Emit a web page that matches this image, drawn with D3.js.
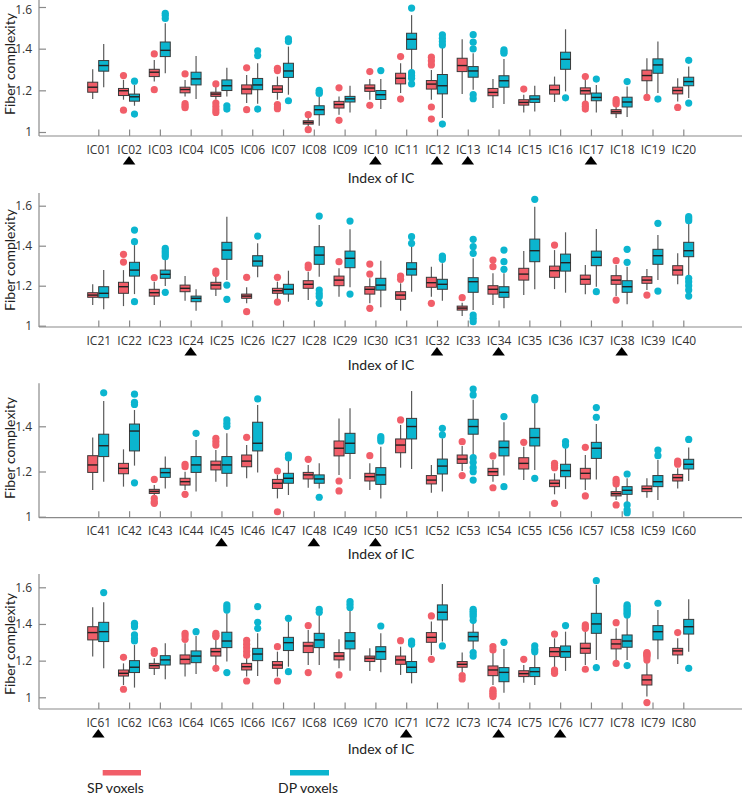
<!DOCTYPE html>
<html><head><meta charset="utf-8">
<script src="https://cdn.jsdelivr.net/npm/d3@7"></script>
<style>body{margin:0;background:#fff}</style>
</head><body><svg id="c" width="745" height="796"></svg>
<script>
const categories = [
"IC01","IC02","IC03","IC04","IC05","IC06","IC07","IC08","IC09","IC10","IC11","IC12","IC13","IC14","IC15","IC16","IC17","IC18","IC19","IC20",
"IC21","IC22","IC23","IC24","IC25","IC26","IC27","IC28","IC29","IC30","IC31","IC32","IC33","IC34","IC35","IC36","IC37","IC38","IC39","IC40",
"IC41","IC42","IC43","IC44","IC45","IC46","IC47","IC48","IC49","IC50","IC51","IC52","IC53","IC54","IC55","IC56","IC57","IC58","IC59","IC60",
"IC61","IC62","IC63","IC64","IC65","IC66","IC67","IC68","IC69","IC70","IC71","IC72","IC73","IC74","IC75","IC76","IC77","IC78","IC79","IC80"];
const markedICs = ["IC02","IC10","IC12","IC13","IC17","IC24","IC32","IC34","IC38","IC45","IC48","IC50","IC61","IC71","IC74","IC76"];
const seriesNames = ["SP voxels","DP voxels"];
const yTickValues = [[1,1.2,1.4,1.6],[1,1.2,1.4,1.6],[1,1.2,1.4],[1,1.2,1.4,1.6]];

// SP voxels: [whisker low, Q1, median, Q3, whisker high]
const spBox = [
[1.159,1.191,1.215,1.239,1.301],[1.155,1.175,1.198,1.209,1.25],[1.242,1.266,1.287,1.301,1.346],[1.171,1.188,1.204,1.215,1.25],
[1.155,1.171,1.182,1.191,1.222],[1.139,1.183,1.206,1.226,1.274],[1.155,1.19,1.206,1.222,1.266],[1.027,1.038,1.046,1.054,1.067],
[1.083,1.115,1.132,1.147,1.171],[1.155,1.195,1.211,1.226,1.255],[1.187,1.231,1.258,1.282,1.33],[1.155,1.206,1.23,1.247,1.298],
[1.182,1.29,1.319,1.354,1.445],[1.115,1.174,1.19,1.209,1.255],[1.094,1.129,1.142,1.155,1.179],[1.144,1.182,1.203,1.225,1.266],
[1.147,1.182,1.198,1.212,1.25],[1.067,1.088,1.097,1.107,1.123],[1.179,1.246,1.271,1.297,1.354],[1.147,1.183,1.199,1.215,1.258],
[1.103,1.142,1.153,1.165,1.207],[1.098,1.162,1.195,1.217,1.278],[1.103,1.148,1.165,1.182,1.22],[1.125,1.17,1.187,1.203,1.248],
[1.148,1.183,1.203,1.217,1.248],[1.112,1.137,1.148,1.158,1.192],[1.128,1.162,1.175,1.187,1.22],[1.128,1.187,1.207,1.225,1.27],
[1.145,1.2,1.228,1.248,1.287],[1.112,1.158,1.182,1.195,1.237],[1.075,1.132,1.153,1.17,1.212],[1.145,1.192,1.215,1.242,1.295],
[1.048,1.078,1.088,1.098,1.115],[1.103,1.158,1.182,1.2,1.262],[1.153,1.228,1.258,1.287,1.373],[1.183,1.242,1.275,1.298,1.378],
[1.157,1.207,1.232,1.253,1.303],[1.148,1.207,1.228,1.25,1.303],[1.178,1.212,1.228,1.245,1.283],[1.207,1.253,1.278,1.3,1.362],
[1.118,1.196,1.229,1.27,1.35],[1.133,1.19,1.214,1.236,1.298],[1.089,1.103,1.112,1.121,1.14],[1.118,1.14,1.155,1.17,1.199],
[1.155,1.207,1.229,1.246,1.295],[1.17,1.221,1.246,1.273,1.317],[1.081,1.125,1.148,1.165,1.185],[1.128,1.167,1.185,1.196,1.229],
[1.185,1.269,1.303,1.335,1.435],[1.118,1.158,1.177,1.192,1.236],[1.217,1.283,1.317,1.344,1.406],[1.106,1.145,1.162,1.182,1.229],
[1.202,1.236,1.255,1.273,1.313],[1.155,1.182,1.199,1.214,1.251],[1.162,1.211,1.236,1.261,1.31],[1.099,1.133,1.148,1.162,1.192],
[1.118,1.167,1.192,1.214,1.273],[1.074,1.092,1.102,1.111,1.133],[1.084,1.111,1.124,1.136,1.17],[1.125,1.158,1.173,1.187,1.214],
[1.222,1.313,1.353,1.385,1.491],[1.067,1.116,1.131,1.149,1.185],[1.122,1.158,1.173,1.185,1.213],[1.113,1.182,1.207,1.231,1.295],
[1.167,1.225,1.249,1.267,1.322],[1.113,1.149,1.167,1.185,1.218],[1.113,1.158,1.176,1.195,1.249],[1.176,1.244,1.28,1.3,1.367],
[1.158,1.204,1.225,1.244,1.316],[1.144,1.195,1.213,1.225,1.267],[1.122,1.18,1.204,1.225,1.276],[1.231,1.3,1.327,1.353,1.413],
[1.135,1.164,1.18,1.195,1.244],[1.067,1.118,1.149,1.171,1.249],[1.08,1.113,1.129,1.145,1.176],[1.165,1.222,1.249,1.271,1.322],
[1.176,1.24,1.267,1.295,1.358],[1.204,1.264,1.291,1.316,1.376],[1.004,1.067,1.095,1.122,1.195],[1.182,1.231,1.253,1.267,1.322]];

// DP voxels: [whisker low, Q1, median, Q3, whisker high]
const dpBox = [
[1.215,1.292,1.319,1.343,1.423],[1.126,1.148,1.169,1.182,1.226],[1.282,1.362,1.392,1.432,1.522],[1.158,1.226,1.255,1.287,1.365],
[1.171,1.199,1.222,1.25,1.309],[1.136,1.203,1.226,1.257,1.33],[1.179,1.262,1.293,1.33,1.41],[1.03,1.083,1.107,1.126,1.171],
[1.094,1.144,1.159,1.171,1.222],[1.11,1.156,1.179,1.199,1.255],[1.3,1.397,1.445,1.474,1.561],[1.067,1.183,1.222,1.276,1.41],
[1.203,1.263,1.293,1.314,1.378],[1.134,1.215,1.246,1.27,1.35],[1.099,1.142,1.158,1.174,1.222],[1.195,1.301,1.349,1.383,1.493],
[1.094,1.15,1.166,1.187,1.226],[1.072,1.12,1.144,1.167,1.218],[1.187,1.282,1.322,1.351,1.434],[1.163,1.222,1.242,1.263,1.314],
[1.082,1.14,1.162,1.195,1.278],[1.158,1.248,1.278,1.317,1.403],[1.198,1.237,1.257,1.278,1.328],[1.075,1.12,1.137,1.148,1.182],
[1.228,1.332,1.378,1.417,1.545],[1.242,1.298,1.323,1.35,1.412],[1.12,1.158,1.182,1.207,1.275],[1.245,1.307,1.353,1.395,1.503],
[1.192,1.29,1.337,1.373,1.482],[1.092,1.178,1.203,1.237,1.325],[1.17,1.253,1.283,1.315,1.403],[1.125,1.182,1.207,1.232,1.312],
[1.078,1.167,1.22,1.24,1.337],[1.087,1.142,1.167,1.195,1.262],[1.182,1.32,1.375,1.433,1.595],[1.165,1.273,1.315,1.358,1.467],
[1.195,1.3,1.342,1.373,1.483],[1.107,1.167,1.195,1.225,1.295],[1.228,1.307,1.35,1.382,1.453],[1.253,1.345,1.375,1.417,1.512],
[1.155,1.266,1.314,1.365,1.512],[1.226,1.291,1.379,1.41,1.472],[1.125,1.174,1.195,1.214,1.266],[1.111,1.196,1.229,1.266,1.339],
[1.133,1.192,1.229,1.266,1.369],[1.196,1.291,1.325,1.418,1.494],[1.096,1.148,1.17,1.192,1.251],[1.125,1.148,1.167,1.185,1.236],
[1.167,1.28,1.325,1.369,1.48],[1.081,1.143,1.185,1.217,1.31],[1.211,1.344,1.399,1.435,1.556],[1.111,1.189,1.224,1.255,1.347],
[1.273,1.365,1.399,1.431,1.517],[1.182,1.269,1.306,1.335,1.418],[1.207,1.313,1.35,1.391,1.502],[1.123,1.177,1.204,1.232,1.303],
[1.165,1.258,1.303,1.329,1.41],[1.059,1.099,1.117,1.133,1.17],[1.074,1.133,1.155,1.182,1.251],[1.158,1.211,1.232,1.254,1.306],
[1.158,1.304,1.358,1.409,1.518],[1.053,1.135,1.164,1.2,1.285],[1.098,1.176,1.204,1.227,1.295],[1.127,1.189,1.225,1.253,1.335],
[1.195,1.271,1.307,1.355,1.458],[1.116,1.2,1.236,1.267,1.35],[1.167,1.255,1.298,1.327,1.413],[1.176,1.271,1.313,1.349,1.449],
[1.145,1.264,1.307,1.353,1.476],[1.136,1.207,1.249,1.276,1.349],[1.076,1.135,1.164,1.195,1.276],[1.304,1.422,1.464,1.504,1.618],
[1.258,1.307,1.331,1.355,1.413],[1.025,1.085,1.136,1.162,1.264],[1.067,1.113,1.14,1.162,1.231],[1.144,1.218,1.249,1.28,1.358],
[1.204,1.349,1.4,1.458,1.613],[1.204,1.273,1.307,1.34,1.44],[1.207,1.313,1.358,1.391,1.476],[1.249,1.345,1.385,1.425,1.535]];

const spOutliers = [
[],[1.271,1.105],[1.375,1.203],[1.279,1.136,1.125,1.117],[1.231,1.139,1.123,1.107,1.094],[1.308,1.107],[1.306,1.295,1.132,1.12,1.112],[1.083,1.011],[1.212,1.056],[1.29,1.128],
[1.362,1.158],[1.359,1.341,1.322,1.12,1.062],[],[],[1.206],[],[1.266,1.134,1.122,1.11],[1.155,1.145,1.135],[1.166],[1.118],
[],[1.357,1.318],[1.24],[],[1.273,1.262],[1.242,1.07],[1.242,1.118],[1.303,1.29],[1.32],[1.308,1.258,1.087],
[1.248,1.232],[1.112],[1.14],[1.328,1.295],[],[1.403],[],[1.325,1.128],[1.153],[],
[],[],[1.165,1.081,1.066,1.059],[1.232,1.221,1.099],[1.347,1.332,1.317],[1.351],[1.202,1.022],[1.254],[1.158,1.114],[1.27],
[1.428],[],[1.332,1.182],[1.269,1.128],[1.329],[1.236,1.226,1.217,1.059],[1.307,1.092],[1.165,1.155,1.145,1.052],[],[1.246,1.238,1.232],
[],[1.218,1.044],[1.255,1.24],[1.349,1.335,1.316],[1.349,1.338,1.331,1.158],[1.31,1.29,1.27,1.25,1.23,1.089],[1.276,1.089],[1.391,1.135],[1.122],[],
[1.309],[1.444,1.207],[1.118,1.1],[1.276,1.258,1.04,1.031,1.022,1.013,1.004],[1.207],[1.345,1.149,1.14,1.131],[1.395,1.385,1.376,1.153],[1.407,1.185],[1.244,1.238,1.233,1.226,1.22,1.204,0.971],[1.353]];

const dpOutliers = [
[],[1.244,1.086],[1.57,1.56,1.545],[],[1.126,1.11],[1.39,1.367,1.11],[1.447,1.434,1.15],[1.2,1.19,1.185],[],[1.295],
[1.595,1.285,1.27,1.258,1.231],[1.466,1.45,1.434,1.418,1.038],[1.467,1.431,1.399,1.179,1.16],[1.394,1.385,1.378],[],[1.164],[1.254],[1.242],[1.158],[1.344,1.139],
[],[1.478,1.42,1.12],[1.387,1.375,1.365,1.355,1.345,1.167],[],[1.203,1.132],[1.448],[],[1.548,1.178,1.16,1.145,1.112],[1.523,1.158],[],
[1.445,1.412],[1.348,1.34,1.332],[1.432,1.395,1.362,1.053,1.037,1.02],[1.378,1.32,1.282],[1.632],[],[1.17],[1.382,1.317],[1.512,1.173],[1.545,1.535,1.525,1.237,1.22,1.2,1.178,1.148],
[1.548],[1.542,1.506,1.497,1.15],[],[1.369],[1.428,1.413,1.4],[1.521],[1.273,1.261],[1.086],[],[1.354,1.345,1.335],
[],[1.391,1.362],[1.565,1.539,1.261,1.241,1.217,1.199,1.162],[1.443,1.133],[1.527,1.517,1.17],[1.332,1.317],[1.483,1.44],[1.189,1.052,1.03,1.018],[1.295,1.27],[1.342],
[1.571],[1.404,1.395,1.385,1.34,1.32,1.307],[],[1.358],[1.504,1.49,1.476,1.135],[1.495,1.409,1.376],[1.431,1.14],[1.48,1.464],[1.522,1.507,1.49],[1.389],
[1.307,1.298,1.289],[1.28],[1.48,1.47,1.46,1.45,1.44,1.42,1.244,1.225],[1.3],[1.28,1.262,1.249],[1.391],[1.636,1.162],[1.504,1.495,1.485,1.476,1.467,1.458,1.449,1.173],[1.513],[1.158]];

// ---------- layout ----------
const colors = {sp:"#F15E69", dp:"#0BB5CF"};
const font = "Lato, 'Open Sans', sans-serif";
const tickFont = "'Open Sans', sans-serif";
const axisColor = "#8a8a8a";
const panelLayout = [
  {axisTop:0,     axisBottom:136,   y1:132,   y16:7,     yLabelCy:64,  xLabelCy:177},
  {axisTop:193,   axisBottom:327,   y1:325.7, y16:205.7, yLabelCy:260, xLabelCy:364},
  {axisTop:383.3, axisBottom:517.7, y1:516.7, y16:381.1, yLabelCy:448, xLabelCy:553},
  {axisTop:574,   axisBottom:709,   y1:697.3, y16:587.3, yLabelCy:644, xLabelCy:748}
];
const axisLeftX = 39, axisRightX = 742;
const boxW = 10;

const svg = d3.select("#c");
const x = d3.scaleLinear().domain([1,20]).range([98.3, 683.3]);

panelLayout.forEach((L, p) => {
  const g = svg.append("g");
  const y = d3.scaleLinear().domain([1,1.6]).range([L.y1, L.y16]);
  const cats = categories.slice(p*20, p*20+20);

  // axes lines
  g.append("line").attr("x1",axisLeftX).attr("x2",axisLeftX).attr("y1",L.axisTop).attr("y2",L.axisBottom)
    .attr("stroke",axisColor).attr("stroke-width",1.2);
  g.append("line").attr("x1",axisLeftX).attr("x2",axisRightX).attr("y1",L.axisBottom).attr("y2",L.axisBottom)
    .attr("stroke",axisColor).attr("stroke-width",1.2);

  // y axis
  const ya = g.append("g").attr("transform",`translate(${axisLeftX},0)`)
    .call(d3.axisLeft(y).tickValues(yTickValues[p]).tickFormat(d=>d3.format("~g")(d))
      .tickSizeInner(-7).tickSizeOuter(0).tickPadding(7));
  ya.select(".domain").remove();
  ya.selectAll(".tick line").attr("stroke",axisColor).attr("stroke-width",1.2);
  ya.selectAll(".tick text").attr("font-family",tickFont).attr("font-size",12).attr("fill","#333");
  if (p === 0) {
    ya.selectAll(".tick text").filter(d => d === 1.6).attr("dy","0.52em");
  }

  // x axis
  const xa = g.append("g").attr("transform",`translate(0,${L.axisBottom})`)
    .call(d3.axisBottom(x).tickValues(d3.range(1,21)).tickFormat((d,i)=>cats[i])
      .tickSizeInner(-6.5).tickSizeOuter(0).tickPadding(9));
  xa.select(".domain").remove();
  xa.selectAll(".tick line").attr("stroke",axisColor).attr("stroke-width",1.2);
  xa.selectAll(".tick text").attr("font-family",tickFont).attr("font-size",12).attr("fill","#333");

  // y label
  g.append("text").attr("transform",`translate(9,${L.yLabelCy}) rotate(-90)`)
    .attr("text-anchor","middle").attr("dominant-baseline","central")
    .attr("font-family",font).attr("font-size",14).attr("fill","#222").text("Fiber complexity");
  // x label
  g.append("text").attr("x",381).attr("y",L.xLabelCy).attr("text-anchor","middle").attr("dominant-baseline","central")
    .attr("font-family",font).attr("font-size",14).attr("fill","#222").text("Index of IC");

  // triangles for marked ICs
  cats.forEach((c,i) => {
    if (markedICs.includes(c)) {
      const cx = x(i+1), t = L.axisBottom + 20, b = L.axisBottom + 28.5;
      g.append("path").attr("d",`M${cx-6.3},${b}L${cx+6.3},${b}L${cx},${t}Z`).attr("fill","#000");
    }
  });

  // boxes
  const series = [
    {box:spBox, out:spOutliers, color:colors.sp, off:-5.6},
    {box:dpBox, out:dpOutliers, color:colors.dp, off:5.4}
  ];
  for (let i=0;i<20;i++) {
    const idx = p*20+i;
    series.forEach(s => {
      const [lo,q1,med,q3,hi] = s.box[idx];
      const cx = x(i+1) + s.off;
      g.append("line").attr("x1",cx).attr("x2",cx).attr("y1",y(lo)).attr("y2",y(hi))
        .attr("stroke","#5a5a5a").attr("stroke-width",1.2);
      g.append("rect").attr("x",cx-boxW/2).attr("width",boxW).attr("y",y(q3)).attr("height",y(q1)-y(q3))
        .attr("fill",s.color).attr("stroke","#3a3a3a").attr("stroke-width",1);
      g.append("line").attr("x1",cx-boxW/2).attr("x2",cx+boxW/2).attr("y1",y(med)).attr("y2",y(med))
        .attr("stroke","#222").attr("stroke-width",1.4);
      s.out[idx].forEach(v => {
        g.append("circle").attr("cx",cx).attr("cy",y(v)).attr("r",3.6).attr("fill",s.color);
      });
    });
  }
});

// legend
const legend = svg.append("g");
[{x1:102.7,x2:141,tx:87,c:colors.sp},{x1:290,x2:329,tx:278,c:colors.dp}].forEach((d,i)=>{
  legend.append("rect").attr("x",d.x1).attr("y",770).attr("width",d.x2-d.x1).attr("height",5.5).attr("fill",d.c);
  legend.append("text").attr("x",d.tx).attr("y",793).attr("font-family",font).attr("font-size",14)
    .attr("fill","#222").text(seriesNames[i]);
});
</script></body></html>
